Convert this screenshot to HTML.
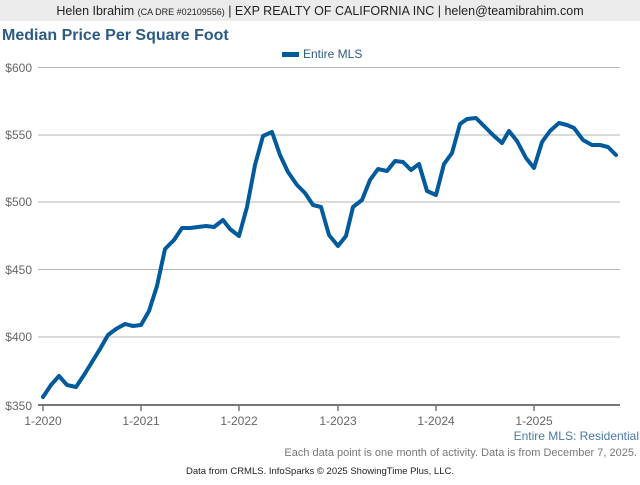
<!DOCTYPE html>
<html><head><meta charset="utf-8"><style>
body{margin:0;width:640px;height:480px;background:#fff;overflow:hidden;font-family:"Liberation Sans",sans-serif}
</style></head><body>
<svg width="640" height="480" xmlns="http://www.w3.org/2000/svg" font-family="Liberation Sans, sans-serif">
<rect x="0" y="0" width="640" height="21" fill="#ebebeb"/>
<text x="320" y="15" font-size="12.5" text-anchor="middle" fill="#222">Helen Ibrahim <tspan font-size="9">(CA DRE #02109556)</tspan> | EXP REALTY OF CALIFORNIA INC | helen@teamibrahim.com</text>
<text x="2" y="40" font-size="16" font-weight="bold" fill="#2d5a85">Median Price Per Square Foot</text>
<rect x="282" y="52" width="17" height="5" fill="#005a9c"/>
<text x="303" y="58" font-size="12" fill="#2d5a85">Entire MLS</text>
<g stroke="#b5b5b5" stroke-width="1">
<line x1="38" y1="67.5" x2="620" y2="67.5"/>
<line x1="38" y1="135" x2="620" y2="135"/>
<line x1="38" y1="202" x2="620" y2="202"/>
<line x1="38" y1="269.5" x2="620" y2="269.5"/>
<line x1="38" y1="337" x2="620" y2="337"/>
</g>
<line x1="38" y1="405" x2="620" y2="405" stroke="#777" stroke-width="2"/>
<g stroke="#777" stroke-width="1.5">
<line x1="43" y1="405" x2="43" y2="411"/><line x1="141" y1="405" x2="141" y2="411"/><line x1="239" y1="405" x2="239" y2="411"/><line x1="338" y1="405" x2="338" y2="411"/><line x1="436" y1="405" x2="436" y2="411"/><line x1="534" y1="405" x2="534" y2="411"/>
</g>
<g font-size="12" fill="#666" text-anchor="end">
<text x="32" y="72">$600</text><text x="32" y="139">$550</text><text x="32" y="206">$500</text><text x="32" y="274">$450</text><text x="32" y="341">$400</text><text x="32" y="410">$350</text>
</g>
<g font-size="12" fill="#666" text-anchor="middle">
<text x="43" y="425">1-2020</text><text x="141" y="425">1-2021</text><text x="239" y="425">1-2022</text><text x="338" y="425">1-2023</text><text x="436" y="425">1-2024</text><text x="534" y="425">1-2025</text>
</g>
<polyline fill="none" stroke="#005a9c" stroke-width="4" stroke-linejoin="round" stroke-linecap="round" points="43,397 51,385 59,376 67,385 76,387 84,375 92,362 100,349 108,335 116,329 125,324 133,326 141,325 149,311 157,286 165,249 174,240 182,228 190,228 198,227 206,226 214,227 223,220 230,229 239,236 247,207 255,165 263,136 272,132 280,155 288,172 297,185 305,193 313,205 321,207 329,235 338,246 346,236 353,207 362,200 370,180 378,169 387,171 395,161 403,162 411,170 419,164 427,191 436,195 444,164 452,153 460,124 467,119 476,118 484,126 493,135 502,143 509,131 517,141 526,158 534,168 542,142 550,131 559,123 567,125 574,128 583,140 592,145 600,145 608,147 616,155"/>
<text x="639" y="440" font-size="12" fill="#4a78a8" text-anchor="end">Entire MLS: Residential</text>
<text x="637" y="456" font-size="11" fill="#777" text-anchor="end">Each data point is one month of activity. Data is from December 7, 2025.</text>
<text x="320" y="474" font-size="9.5" fill="#222" text-anchor="middle">Data from CRMLS. InfoSparks © 2025 ShowingTime Plus, LLC.</text>
</svg>
</body></html>
